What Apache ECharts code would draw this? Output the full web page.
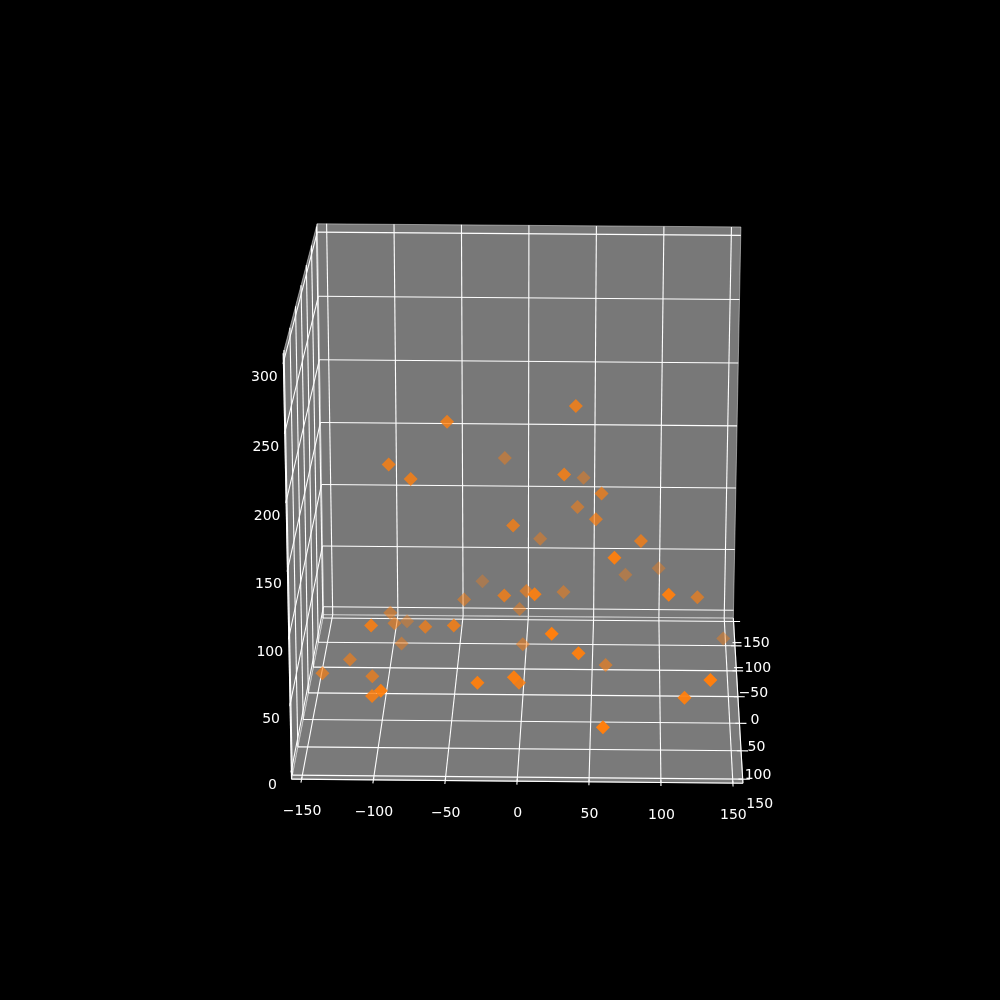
<!DOCTYPE html>
<html><head><meta charset="utf-8"><style>html,body{margin:0;background:#000}#c{width:1000px;height:1000px}</style>
<script src="https://cdn.jsdelivr.net/npm/echarts@6/dist/echarts.min.js"></script></head><body><div id="c"></div>
<script>
// Tick values and labels
const xTicks=[-150,-100,-50,0,50,100,150];
const yTicks=[-150,-100,-50,0,50,100,150];
const zTicks=[0,50,100,150,200,250,300];
// Scatter values
const pointX=[59,135,117,-31,-5,-2,-108,-100,41,22,66,105,9,-109,-50,-72,-14,29,37,-56,-98,-82,-8,85,52,56,127,60,148,-2,-111,-129,-148,-93,-97,-101,-90,-46,-34,-5,1,28,74,99,38,42,-17,10];
const pointY=[84,74,64,61,60,34,37,63,55,65,35,43,29,22,8,-19,-12,-24,-38,-35,-26,-23,-27,-24,-42,-48,-40,-41,-96,-71,-15,-40,-20,-80,-61,-77,-103,-80,-126,-92,-55,-82,-114,-115,-87,-121,-125,-107];
const pointZ=[4,37,19,28,32,17,7,22,49,68,115,90,84,56,51,39,67,157,205,193,163,153,116,106,116,134,56,1,1,5,1,4,1,1,25,27,10,37,34,25,54,43,45,50,109,120,134,76];

// Box limits and where its corners land on the page
const L=157, Z0=-6.5, Z1=306.5;
const anchors=[[-L,-L,Z1,317,224],[L,-L,Z1,741,227],[-L,-L,Z0,323.5,614.5],[L,-L,Z0,733.5,618],[-L,L,Z0,291.7,779.3],[L,L,Z0,742.7,783.3],[-L,L,Z1,283.3,353]];
function solve(A,b){const n=b.length;A=A.map((r,i)=>[...r,b[i]]);for(let i=0;i<n;i++){let m=i;for(let k=i+1;k<n;k++)if(Math.abs(A[k][i])>Math.abs(A[m][i]))m=k;[A[i],A[m]]=[A[m],A[i]];for(let k=0;k<n;k++)if(k!=i){const f=A[k][i]/A[i][i];for(let j=i;j<=n;j++)A[k][j]-=f*A[i][j];}}return A.map((r,i)=>r[n]/r[i]);}
const nx=X=>X/L, ny=Y=>Y/L, nz=Z=>(Z-150)/L;
function fit(){const R=[],B=[];anchors.forEach(([X,Y,Z,u,v])=>{const a=nx(X),b=ny(Y),c=nz(Z);R.push([a,b,c,1,0,0,0,0,-u*a,-u*b,-u*c]);B.push(u);R.push([0,0,0,0,a,b,c,1,-v*a,-v*b,-v*c]);B.push(v);});
const n=11,N=[...Array(n)].map(()=>Array(n).fill(0)),r=Array(n).fill(0);R.forEach((row,i)=>{for(let p=0;p<n;p++){r[p]+=row[p]*B[i];for(let q=0;q<n;q++)N[p][q]+=row[p]*row[q];}});return solve(N,r);}
const P=fit();
function proj(X,Y,Z){const a=nx(X),b=ny(Y),c=nz(Z),w=P[8]*a+P[9]*b+P[10]*c+1;return [(P[0]*a+P[1]*b+P[2]*c+P[3])/w,(P[4]*a+P[5]*b+P[6]*c+P[7])/w];}

// Panes
const panes=[
 {c:'#787878',q:[[-L,-L,Z0],[L,-L,Z0],[L,-L,Z1],[-L,-L,Z1]]},
 {c:'#7a7a7a',q:[[-L,-L,Z0],[L,-L,Z0],[L,L,Z0],[-L,L,Z0]]},
 {c:'#767676',q:[[-L,-L,Z0],[-L,L,Z0],[-L,L,Z1],[-L,-L,Z1]]}];
// Lines: page coords, width, colour
const lines=[];
function seg(a,b,w,c){lines.push([...proj(...a),...proj(...b),w,c]);}
const EDGE='rgba(255,255,255,0.45)';
panes.forEach(p=>p.q.forEach((a,i)=>seg(a,p.q[(i+1)%4],1,EDGE)));
yTicks.forEach(y=>{seg([-L,y,Z0],[L,y,Z0],1.1,'#fff');seg([-L,y,Z0],[-L,y,Z1],1.1,'#fff');seg([L-3,y,Z0],[L+5,y,Z0],1.1,'#fff');});
xTicks.forEach(x=>{seg([x,-L,Z0],[x,L,Z0],1.1,'#fff');seg([x,-L,Z0],[x,-L,Z1],1.1,'#fff');seg([x,L-4,Z0],[x,L+6,Z0],1.1,'#fff');});
zTicks.forEach(z=>{seg([-L,-L,z],[L,-L,z],1.1,'#fff');seg([-L,-L,z],[-L,L,z],1.1,'#fff');seg([-L,L-3,z],[-L,L+3,z],1.1,'#fff');});
seg([-L,L,Z0],[L,L,Z0],1.1,'#fff');seg([L,L,Z0],[L,-L,Z0],1.1,'#fff');seg([-L,L,Z0],[-L,L,Z1],1.1,'#fff');

// Tick labels
const fmt=v=>v<0?'\u2212'+(-v):String(v);
const labels=[];
xTicks.forEach(x=>{const p=proj(x,L,Z0);labels.push([p[0]+.5,p[1]+32.5,fmt(x)]);});
yTicks.forEach(y=>{const p=proj(L,y,Z0);labels.push([p[0]+17,p[1]+23.5+y*0.01,fmt(y)]);});
zTicks.forEach(z=>{const p=proj(-L,L,z);labels.push([p[0]-19,p[1]+14.5,fmt(z)]);});

// Depth shading
const dF=-131,dN=85;
const points=pointX.map((x,i)=>{const d=pointY[i]+.3*pointZ[i];const a=Math.max(.3,Math.min(1,.3+.7*(d-dF)/(dN-dF)));return {d,a,p:proj(x,pointY[i],pointZ[i])};}).sort((m,n)=>m.d-n.d);

const chart=echarts.init(document.getElementById('c'));
chart.setOption({animation:false,backgroundColor:'#000',grid:{left:0,top:0,right:0,bottom:0},
 xAxis:{type:'value',min:0,max:1000,show:false},yAxis:{type:'value',min:0,max:1000,inverse:true,show:false},
 series:[
 {type:'custom',silent:true,clip:false,z:1,data:panes.map((_,i)=>[i]),renderItem:(q,api)=>{const p=panes[q.dataIndex];return{type:'polygon',shape:{points:p.q.map(c=>api.coord(proj(...c)))},style:{fill:p.c}};}},
 {type:'custom',silent:true,clip:false,z:2,data:lines.map(l=>l.slice(0,4)),renderItem:(q,api)=>{const l=lines[q.dataIndex];const a=api.coord([l[0],l[1]]),b=api.coord([l[2],l[3]]);return{type:'line',shape:{x1:a[0],y1:a[1],x2:b[0],y2:b[1]},style:{stroke:l[5],lineWidth:l[4]}};}},
 {type:'scatter',silent:true,clip:false,z:3,symbol:'diamond',symbolSize:14,data:points.map(o=>({value:o.p,itemStyle:{color:'#ff7f0e',opacity:o.a}}))},
 {type:'custom',silent:true,clip:false,z:4,data:labels.map(l=>[l[0],l[1]]),renderItem:(q,api)=>{const l=labels[q.dataIndex];const a=api.coord([l[0],l[1]]);return{type:'text',x:a[0],y:a[1],style:{text:l[2],fill:'#fff',font:'14px "DejaVu Sans"',align:'center',verticalAlign:'middle'}};}}
 ]});
</script></body></html>
